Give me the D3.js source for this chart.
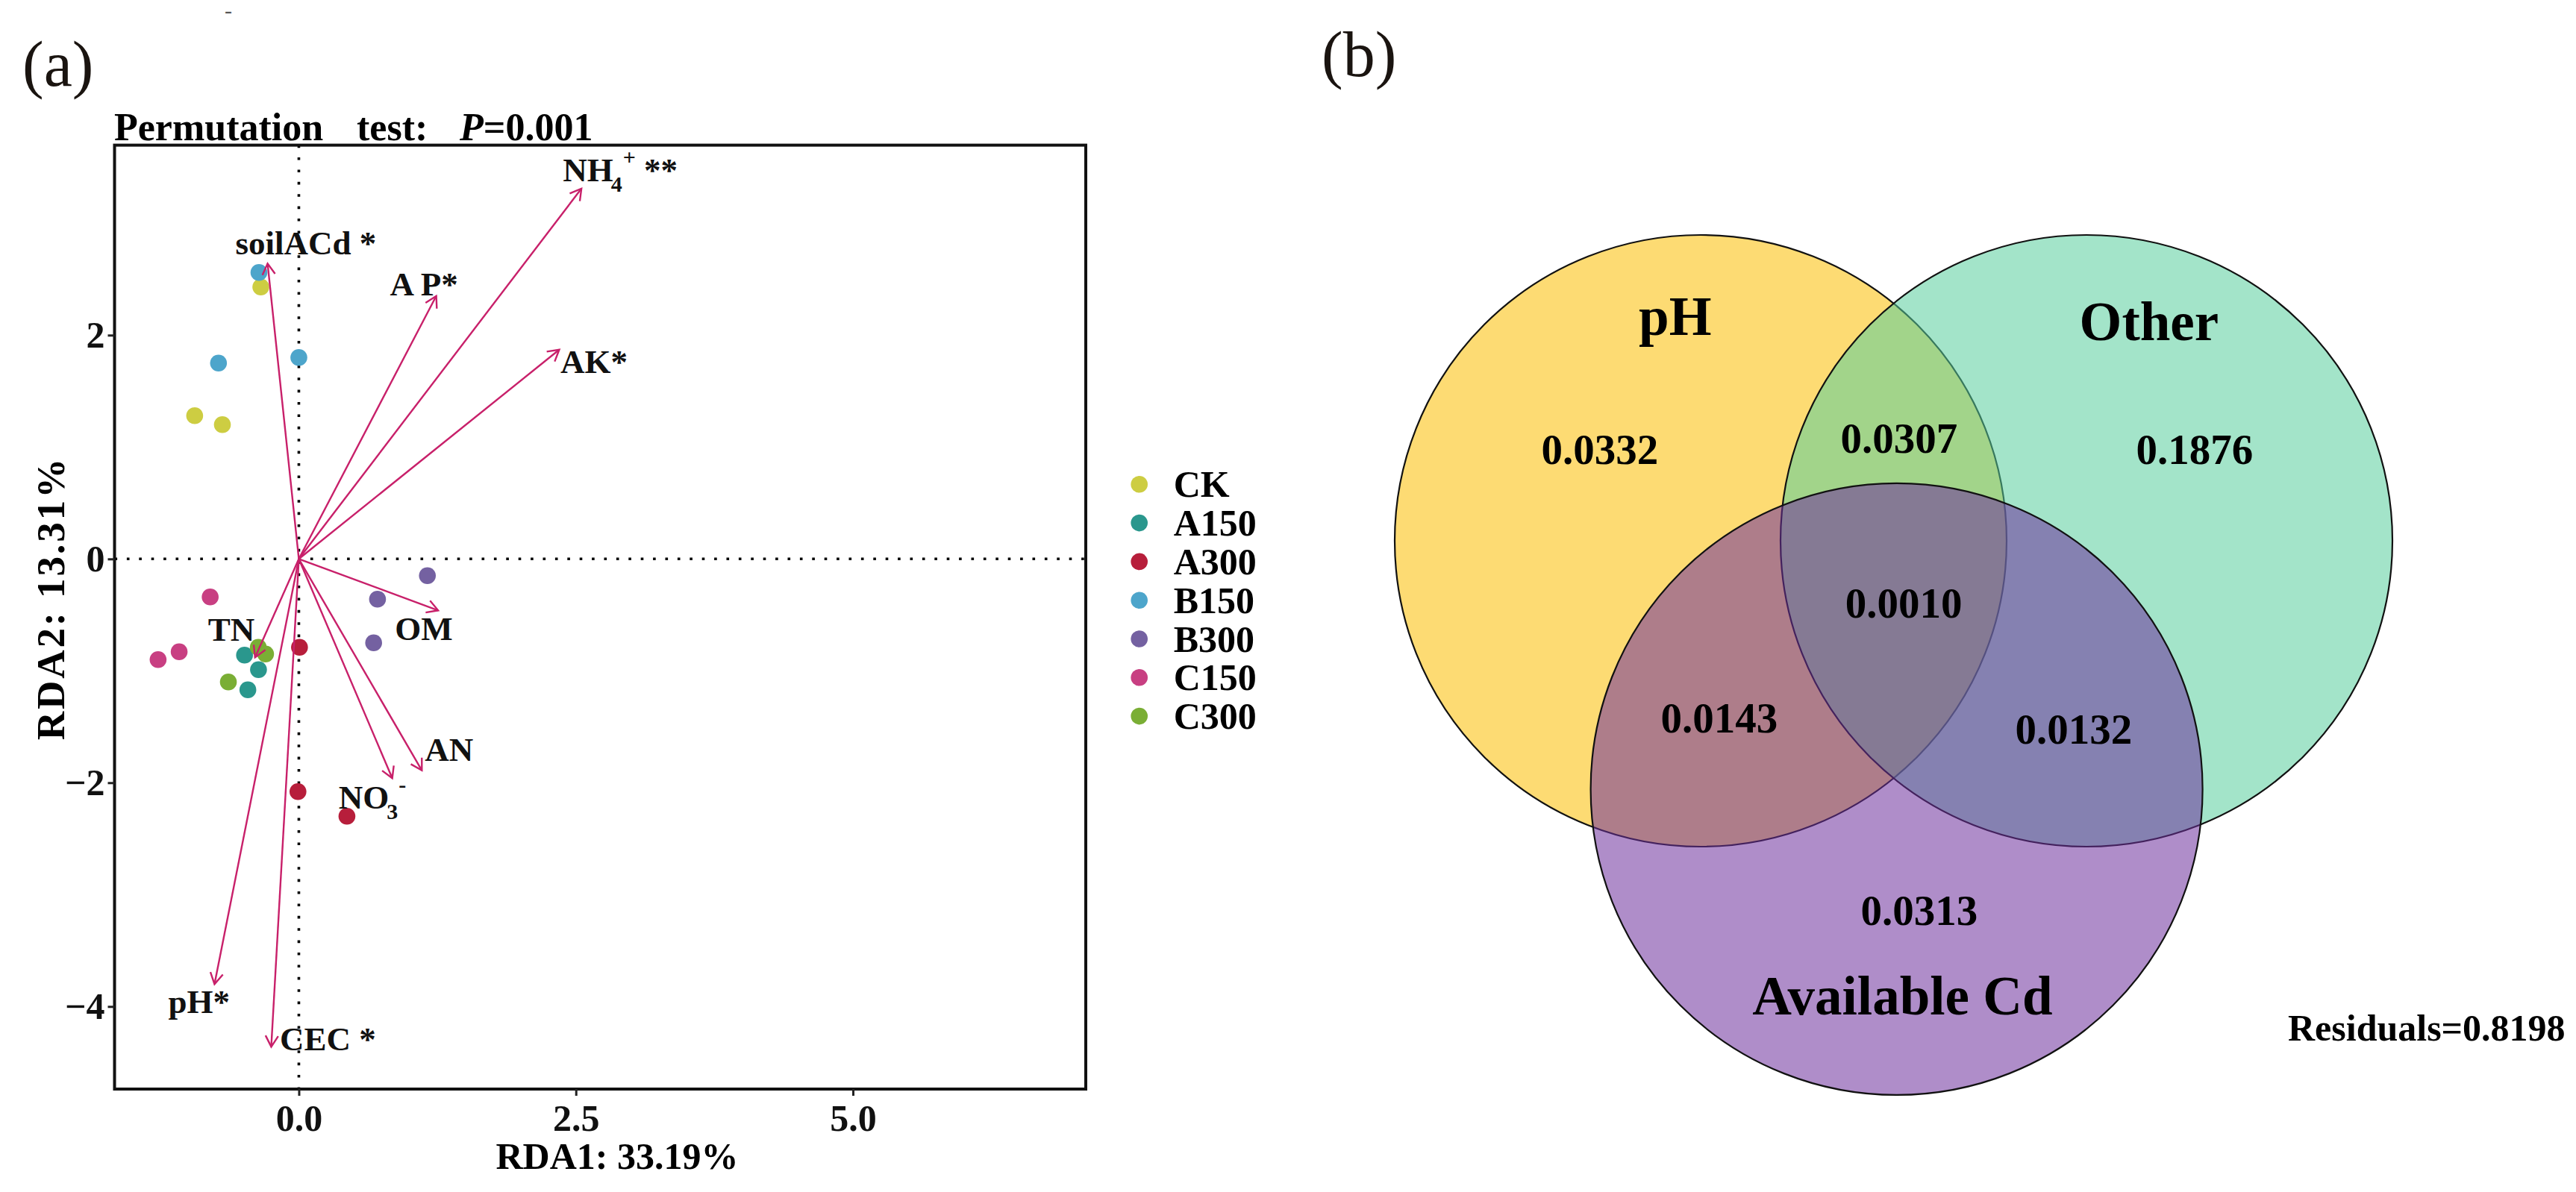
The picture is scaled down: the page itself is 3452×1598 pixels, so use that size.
<!DOCTYPE html>
<html>
<head>
<meta charset="utf-8">
<script src="https://cdn.jsdelivr.net/npm/d3@7"></script>
<style>
  body { margin: 0; background: #fff; }
  text { font-family: "Liberation Serif", "Times New Roman", serif; }
</style>
</head>
<body>
<svg id="fig" width="3452" height="1598"></svg>
<script>
// ---- panel (a) data: RDA site scores ----
var groups = ["CK", "A150", "A300", "B150", "B300", "C150", "C300"];
var groupColors = ["#CDCD42", "#2A978D", "#B71E3B", "#4DA5CB", "#7461A1", "#C83F82", "#7AAE35"];
var siteGroup = ["CK", "CK", "CK", "A150", "A150", "A150", "A300", "A300", "A300",
                 "B150", "B150", "B150", "B300", "B300", "B300", "C150", "C150", "C150",
                 "C300", "C300", "C300"];
var siteRDA1 = [-0.343, -0.94, -0.69, -0.49, -0.364, -0.46, 0.006, -0.008, 0.434,
                -0.36, -0.725, 0.0, 1.16, 0.71, 0.675, -0.80, -1.08, -1.27,
                -0.366, -0.30, -0.636];
var siteRDA2 = [2.43, 1.28, 1.20, -0.86, -0.99, -1.17, -0.79, -2.08, -2.30,
                2.56, 1.75, 1.80, -0.15, -0.36, -0.75, -0.34, -0.83, -0.90,
                -0.79, -0.85, -1.10];

// ---- panel (a) data: environmental vectors ----
var envNames = ["soilACd", "AP", "NH4", "AK", "OM", "TN", "NO3", "AN", "pH", "CEC"];
var envSig = [" *", "*", " **", "*", "", "", "", "", "*", " *"];
var envRDA1 = [-0.282, 1.24, 2.55, 2.35, 1.257, -0.395, 0.843, 1.11, -0.761, -0.249];
var envRDA2 = [2.64, 2.35, 3.31, 1.87, -0.46, -0.88, -1.96, -1.89, -3.80, -4.36];

var xTicks = [0, 2.5, 5];
var yTicks = [2, 0, -2, -4];
var xTitle = "RDA1: 33.19%";
var yTitle = "RDA2: 13.31%";
var permP = "0.001";

// ---- panel (b) data: variance partitioning ----
var vennSets = ["pH", "Other", "Available Cd"];
var vennRegions = ["pH", "Other", "Available Cd", "pH&Other", "pH&Available Cd", "Other&Available Cd", "pH&Other&Available Cd"];
var vennValues = [0.0332, 0.1876, 0.0313, 0.0307, 0.0143, 0.0132, 0.0010];
var residuals = 0.8198;

// ---- layout ----
var labelNudge = [[-43, -12], [-62, -1], [-25, -10], [1.5, 31], [-58, 40], [-63, -22], [-72, 41], [4, -12.5], [-62, 39], [11.5, 5]];
var vennCentre = {"pH": [-0.6305, 0], "Other": [0.6305, 0], "Available Cd": [0.01, 0.812]};
var vennFill = {"pH": "#FBBE00", "Other": "#58CE9D", "Available Cd": "#6E309D"};
var vennSetLabelPos = {"pH": [-0.714, -0.672], "Other": [0.835, -0.655], "Available Cd": [0.029, 1.548]};
var vennRegionPos = [[-0.96, -0.252], [0.984, -0.252], [0.084, 1.256], [0.018, -0.288],
                     [-0.57, 0.628], [0.589, 0.663], [0.033, 0.25]];

var svg = d3.select("#fig");
var fmt4 = d3.format(".4f");

// ================= panel (a) =================
var pLeft = 153.5, pRight = 1455, pTop = 194.6, pBottom = 1460;
var x = d3.scaleLinear().domain([-1.663, 7.101]).range([pLeft, pRight]);
var y = d3.scaleLinear().domain([-4.738, 3.698]).range([pBottom, pTop]);
var color = d3.scaleOrdinal().domain(groups).range(groupColors);
var arrowCol = "#C8206A";

var gA = svg.append("g");

// zero lines
gA.append("line")
    .attr("x1", x(0)).attr("x2", x(0)).attr("y1", pTop).attr("y2", pBottom)
    .attr("stroke", "#000").attr("stroke-width", 3.6).attr("stroke-dasharray", "3.6,12.8");
gA.append("line")
    .attr("x1", pLeft).attr("x2", pRight).attr("y1", y(0)).attr("y2", y(0))
    .attr("stroke", "#000").attr("stroke-width", 3.6).attr("stroke-dasharray", "3.6,12.8");

// sites
var sites = siteGroup.map(function(g, i) { return {g: g, x: siteRDA1[i], y: siteRDA2[i]}; });
gA.append("g").selectAll("circle")
    .data(sites)
    .enter().append("circle")
      .attr("cx", function(d) { return x(d.x); })
      .attr("cy", function(d) { return y(d.y); })
      .attr("r", 11.3)
      .attr("fill", function(d) { return color(d.g); });

// arrows
function head(x1, y1, x2, y2) {
  var a = Math.atan2(y2 - y1, x2 - x1), L = 17, s = Math.PI / 6;
  return "M" + (x2 - L * Math.cos(a - s)) + "," + (y2 - L * Math.sin(a - s)) +
         "L" + x2 + "," + y2 +
         "L" + (x2 - L * Math.cos(a + s)) + "," + (y2 - L * Math.sin(a + s));
}
var env = envNames.map(function(n, i) { return {name: n, sig: envSig[i], x: envRDA1[i], y: envRDA2[i], nudge: labelNudge[i]}; });
var arrows = gA.append("g").selectAll("g")
    .data(env)
    .enter().append("g");
arrows.append("line")
    .attr("x1", x(0)).attr("y1", y(0))
    .attr("x2", function(d) { return x(d.x); })
    .attr("y2", function(d) { return y(d.y); })
    .attr("stroke", arrowCol).attr("stroke-width", 2.4);
arrows.append("path")
    .attr("d", function(d) { return head(x(0), y(0), x(d.x), y(d.y)); })
    .attr("fill", "none").attr("stroke", arrowCol).attr("stroke-width", 2.4);

var labels = arrows.append("text")
    .attr("x", function(d) { return x(d.x) + d.nudge[0]; })
    .attr("y", function(d) { return y(d.y) + d.nudge[1]; })
    .attr("font-size", 45).attr("font-weight", "bold").attr("fill", "#111");
labels.each(function(d) {
  var t = d3.select(this);
  if (d.name === "NH4" || d.name === "NO3") {
    t.append("tspan").text(d.name.slice(0, 2));
    t.append("tspan").attr("font-size", 30).attr("dy", 14).attr("dx", -3).text(d.name.slice(2));
    t.append("tspan").attr("font-size", 30).attr("dy", -36).attr("dx", 1).text(d.name === "NH4" ? "+" : "-");
    t.append("tspan").attr("dy", 22).text(d.sig);
  } else if (d.name === "AP") {
    t.text("A P" + d.sig);
  } else {
    t.text(d.name + d.sig);
  }
});

// frame
gA.append("rect")
    .attr("x", pLeft).attr("y", pTop).attr("width", pRight - pLeft).attr("height", pBottom - pTop)
    .attr("fill", "none").attr("stroke", "#111").attr("stroke-width", 4);

// axes
var xAxis = gA.append("g")
    .attr("transform", "translate(0," + pBottom + ")")
    .call(d3.axisBottom(x).tickValues(xTicks).tickFormat(d3.format(".1f")).tickSize(9).tickPadding(11));
var yAxis = gA.append("g")
    .attr("transform", "translate(" + pLeft + ",0)")
    .call(d3.axisLeft(y).tickValues(yTicks).tickFormat(d3.format("d")).tickSize(9).tickPadding(4));
[xAxis, yAxis].forEach(function(ax) {
  ax.select(".domain").remove();
  ax.selectAll(".tick line").attr("stroke", "#222").attr("stroke-width", 3);
  ax.selectAll(".tick text")
      .attr("font-size", 50).attr("font-weight", "bold").attr("fill", "#111")
      .style("font-family", "'Liberation Serif', serif");
});

// axis titles
gA.append("text")
    .attr("x", 827).attr("y", 1567)
    .attr("text-anchor", "middle").attr("font-size", 50).attr("font-weight", "bold")
    .text(xTitle);
gA.append("text")
    .attr("transform", "translate(86,802) rotate(-90)")
    .attr("text-anchor", "middle").attr("font-size", 53).attr("font-weight", "bold")
    .attr("letter-spacing", 3)
    .text(yTitle);

// permutation test title
var ttl = gA.append("text").attr("y", 187.5).attr("font-size", 52).attr("font-weight", "bold");
ttl.append("tspan").attr("x", 153).text("Permutation");
ttl.append("tspan").attr("x", 478).text("test:");
ttl.append("tspan").attr("x", 616).attr("font-style", "italic").text("P");
ttl.append("tspan").text("=" + permP);

// legend
var leg = gA.append("g").selectAll("g")
    .data(groups)
    .enter().append("g")
      .attr("transform", function(d, i) { return "translate(1526.7," + (649.3 + i * 51.8) + ")"; });
leg.append("circle").attr("r", 11.3).attr("fill", function(d) { return color(d); });
leg.append("text")
    .attr("x", 46).attr("y", 17)
    .attr("font-size", 50).attr("font-weight", "bold")
    .text(function(d) { return d; });

// panel tag + small mark
svg.append("text").attr("x", 30).attr("y", 115).attr("font-size", 86).attr("fill", "#1a1410").text("(a)");
svg.append("text").attr("x", 301).attr("y", 24).attr("font-size", 30).attr("fill", "#555").text("-");

// ================= panel (b) =================
var R = 410;
var vx = d3.scaleLinear().domain([-1, 1]).range([2537.5 - R, 2537.5 + R]);
var vy = d3.scaleLinear().domain([-1, 1]).range([725 - R, 725 + R]);
var gB = svg.append("g");

gB.selectAll("circle")
    .data(vennSets)
    .enter().append("circle")
      .attr("cx", function(d) { return vx(vennCentre[d][0]); })
      .attr("cy", function(d) { return vy(vennCentre[d][1]); })
      .attr("r", vx(1) - vx(0))
      .attr("fill", function(d) { return vennFill[d]; })
      .attr("fill-opacity", 0.55)
      .attr("stroke", "#111").attr("stroke-width", 2.2);

gB.selectAll("text.set")
    .data(vennSets)
    .enter().append("text")
      .attr("class", "set")
      .attr("x", function(d) { return vx(vennSetLabelPos[d][0]); })
      .attr("y", function(d) { return vy(vennSetLabelPos[d][1]); })
      .attr("text-anchor", "middle").attr("font-size", 73).attr("font-weight", "bold")
      .text(function(d) { return d; });

gB.selectAll("text.val")
    .data(vennValues)
    .enter().append("text")
      .attr("class", "val")
      .attr("x", function(d, i) { return vx(vennRegionPos[i][0]); })
      .attr("y", function(d, i) { return vy(vennRegionPos[i][1]); })
      .attr("text-anchor", "middle").attr("font-size", 57).attr("font-weight", "bold")
      .text(function(d) { return fmt4(d); });

gB.append("text")
    .attr("x", vx(1.289)).attr("y", vy(1.633))
    .attr("font-size", 50).attr("font-weight", "bold")
    .text("Residuals=" + fmt4(residuals));

svg.append("text").attr("x", 1771).attr("y", 102).attr("font-size", 86).attr("fill", "#1a1410").text("(b)");
</script>
</body>
</html>
